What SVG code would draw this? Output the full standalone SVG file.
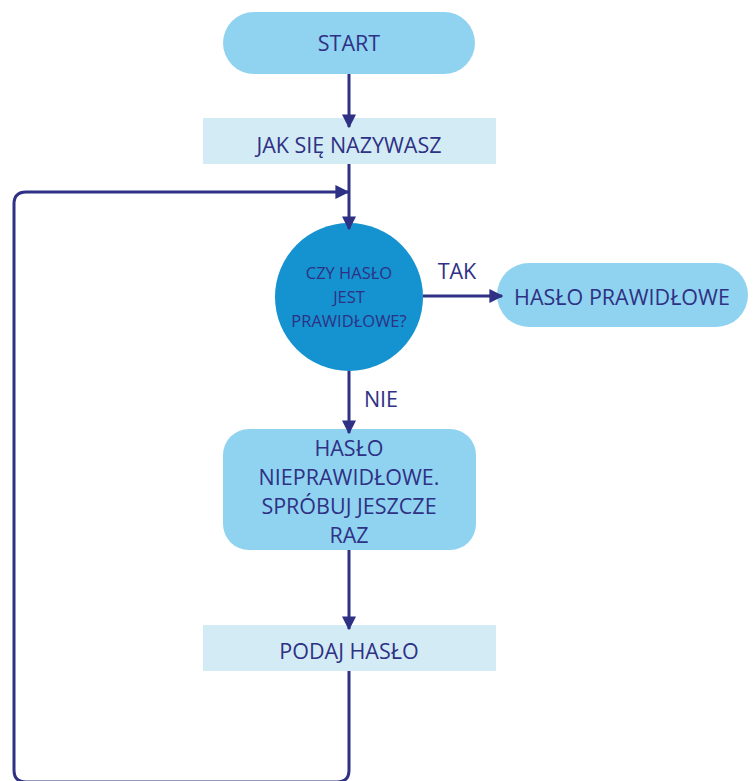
<svg xmlns="http://www.w3.org/2000/svg" width="754" height="781" viewBox="0 0 754 781">
<defs>
<style>
.t{font-family:"Open Sans","Noto Sans",sans-serif;fill:#2e3184;text-anchor:middle;dominant-baseline:central;font-size:21.5px}
.s{font-size:16.5px}
.pill{fill:#90d3f0}
.box{fill:#d3ebf5}
.c{fill:none;stroke:#2e3184;stroke-width:3}
</style>
<marker id="ah" viewBox="0 0 10 10" refX="9" refY="5" markerWidth="14" markerHeight="14" markerUnits="userSpaceOnUse" orient="auto">
<path d="M0,0 L10,5 L0,10 Z" fill="#2e3184"/>
</marker>
</defs>
<rect width="754" height="781" fill="#fff"/>
<g id="start">
<rect class="pill" x="223" y="12" width="252" height="62" rx="31"/>
<text class="t" x="349" y="42">START</text>
</g>
<g id="jak">
<rect class="box" x="203" y="118" width="293" height="46"/>
<text class="t" x="349" y="144">JAK SIĘ NAZYWASZ</text>
</g>
<g id="decision">
<circle cx="349" cy="297" r="74" fill="#1592d0"/>
<text class="t s" x="349" y="272">CZY HASŁO</text>
<text class="t s" x="349" y="296">JEST</text>
<text class="t s" x="349" y="320">PRAWIDŁOWE?</text>
</g>
<g id="ok">
<rect class="pill" x="497" y="263" width="251" height="64" rx="32"/>
<text class="t" x="622" y="296">HASŁO PRAWIDŁOWE</text>
</g>
<g id="bad">
<rect class="pill" x="223" y="429" width="253" height="121" rx="26"/>
<text class="t" x="349" y="447">HASŁO</text>
<text class="t" x="349" y="476">NIEPRAWIDŁOWE.</text>
<text class="t" x="349" y="505">SPRÓBUJ JESZCZE</text>
<text class="t" x="349" y="534">RAZ</text>
</g>
<g id="podaj">
<rect class="box" x="203" y="625" width="293" height="46"/>
<text class="t" x="349" y="650">PODAJ HASŁO</text>
</g>
<g id="connectors">
<line class="c" x1="349" y1="74" x2="349" y2="127" marker-end="url(#ah)"/>
<line class="c" x1="349" y1="164" x2="349" y2="229" marker-end="url(#ah)"/>
<path class="c" d="M349,671 V770 Q349,782 337,782 H26 Q14,782 14,770 V204 Q14,192 26,192 H348" marker-end="url(#ah)"/>
<line class="c" x1="423" y1="296" x2="502" y2="296" marker-end="url(#ah)"/>
<line class="c" x1="349" y1="371" x2="349" y2="433" marker-end="url(#ah)"/>
<line class="c" x1="349" y1="550" x2="349" y2="629" marker-end="url(#ah)"/>
<text class="t" x="457" y="270">TAK</text>
<text class="t" x="381" y="398">NIE</text>
</g>
</svg>
